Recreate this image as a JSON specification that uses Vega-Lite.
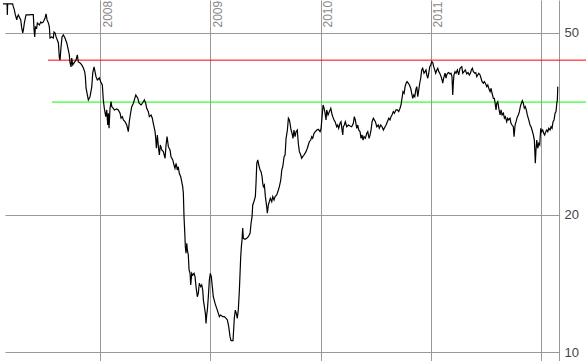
{
  "$schema": "https://vega.github.io/schema/vega-lite/v6.json",
  "width": 554,
  "height": 361,
  "autosize": {"type": "none"},
  "padding": {"left": 5, "top": 0, "right": 27, "bottom": 0},
  "background": "white",
  "config": {"view": {"stroke": null}},
  "encoding": {
    "x": {
      "field": "t",
      "type": "quantitative",
      "scale": {"domain": [2007.134, 2012.166], "nice": false, "zero": false},
      "axis": {
        "orient": "top",
        "values": [2008, 2009, 2010, 2011, 2012],
        "format": "d",
        "labelExpr": "datum.value == 2012 ? '' : datum.label",
        "title": null,
        "grid": true,
        "gridColor": "#999999",
        "gridOpacity": 1,
        "gridWidth": 1,
        "domain": false,
        "ticks": false,
        "tickSize": 0,
        "labelAngle": -90,
        "labelAlign": "left",
        "labelBaseline": "top",
        "labelPadding": -27,
        "labelOffset": 2,
        "labelColor": "#888888",
        "labelFont": "Liberation Sans",
        "labelFontSize": 12,
        "labelOverlap": false,
        "labelFlush": false,
        "labelBound": false
      }
    },
    "y": {
      "field": "v",
      "type": "quantitative",
      "scale": {"type": "log", "domain": [9.58, 59.03], "nice": false, "zero": false},
      "axis": {
        "orient": "right",
        "values": [10, 20, 50],
        "format": "d",
        "title": null,
        "grid": true,
        "gridColor": "#999999",
        "gridOpacity": 1,
        "gridWidth": 1,
        "domain": true,
        "domainColor": "#999999",
        "domainWidth": 1,
        "ticks": false,
        "tickSize": 0,
        "labelPadding": 5,
        "labelAlign": "left",
        "labelBaseline": "middle",
        "labelColor": "#444444",
        "labelFont": "Liberation Sans",
        "labelFontSize": 13,
        "labelOverlap": false,
        "labelFlush": false
      }
    }
  },
  "layer": [
    {
      "data": {"values": [{"t": 2007.525, "t2": 2012.42, "v": 43.6}]},
      "mark": {"type": "rule", "color": "#ff0000", "strokeWidth": 1},
      "encoding": {"x2": {"field": "t2"}}
    },
    {
      "data": {"values": [{"t": 2007.561, "t2": 2012.42, "v": 35.3}]},
      "mark": {"type": "rule", "color": "#00ff00", "strokeWidth": 1},
      "encoding": {"x2": {"field": "t2"}}
    },
    {
      "data": {"values": [
        {"t": 2007.116, "v": 57.87}, {"t": 2007.153, "v": 57.87}, {"t": 2007.155, "v": 54.75}, {"t": 2007.158, "v": 57.87},
        {"t": 2007.203, "v": 57.87}, {"t": 2007.210, "v": 57.01}, {"t": 2007.219, "v": 56.15}, {"t": 2007.228, "v": 54.75},
        {"t": 2007.241, "v": 53.39}, {"t": 2007.246, "v": 54.21}, {"t": 2007.255, "v": 54.75}, {"t": 2007.264, "v": 54.21},
        {"t": 2007.277, "v": 53.39}, {"t": 2007.286, "v": 51.28}, {"t": 2007.295, "v": 50.0}, {"t": 2007.301, "v": 50.76},
        {"t": 2007.310, "v": 52.59}, {"t": 2007.319, "v": 53.93}, {"t": 2007.325, "v": 54.75}, {"t": 2007.346, "v": 54.75},
        {"t": 2007.377, "v": 54.83}, {"t": 2007.391, "v": 54.83}, {"t": 2007.398, "v": 50.76}, {"t": 2007.404, "v": 49.01},
        {"t": 2007.410, "v": 51.54}, {"t": 2007.422, "v": 51.28}, {"t": 2007.428, "v": 52.59}, {"t": 2007.446, "v": 52.06},
        {"t": 2007.459, "v": 52.86}, {"t": 2007.468, "v": 52.59}, {"t": 2007.482, "v": 52.86}, {"t": 2007.498, "v": 53.93},
        {"t": 2007.507, "v": 55.03}, {"t": 2007.516, "v": 53.39}, {"t": 2007.528, "v": 52.59}, {"t": 2007.537, "v": 51.54},
        {"t": 2007.543, "v": 48.76}, {"t": 2007.559, "v": 49.01}, {"t": 2007.573, "v": 48.76}, {"t": 2007.579, "v": 50.24},
        {"t": 2007.589, "v": 50.0}, {"t": 2007.598, "v": 49.01}, {"t": 2007.609, "v": 48.27}, {"t": 2007.619, "v": 47.55},
        {"t": 2007.628, "v": 44.08}, {"t": 2007.634, "v": 43.64}, {"t": 2007.643, "v": 46.60}, {"t": 2007.652, "v": 49.01},
        {"t": 2007.664, "v": 49.50}, {"t": 2007.679, "v": 48.76}, {"t": 2007.695, "v": 47.55}, {"t": 2007.709, "v": 45.90},
        {"t": 2007.718, "v": 44.76}, {"t": 2007.725, "v": 42.99}, {"t": 2007.734, "v": 42.14}, {"t": 2007.740, "v": 44.08},
        {"t": 2007.749, "v": 42.56}, {"t": 2007.761, "v": 42.99}, {"t": 2007.779, "v": 43.64}, {"t": 2007.791, "v": 44.76},
        {"t": 2007.800, "v": 43.20}, {"t": 2007.816, "v": 42.99}, {"t": 2007.831, "v": 42.56}, {"t": 2007.846, "v": 41.92},
        {"t": 2007.858, "v": 41.09}, {"t": 2007.864, "v": 40.07}, {"t": 2007.870, "v": 37.90}, {"t": 2007.882, "v": 36.59},
        {"t": 2007.891, "v": 35.68}, {"t": 2007.906, "v": 36.23}, {"t": 2007.922, "v": 38.10}, {"t": 2007.931, "v": 40.88},
        {"t": 2007.943, "v": 42.14}, {"t": 2007.952, "v": 41.09}, {"t": 2007.961, "v": 40.07}, {"t": 2007.973, "v": 39.46},
        {"t": 2007.991, "v": 39.86}, {"t": 2008.004, "v": 39.07}, {"t": 2008.018, "v": 38.48}, {"t": 2008.027, "v": 35.68},
        {"t": 2008.036, "v": 34.22}, {"t": 2008.049, "v": 32.80}, {"t": 2008.058, "v": 33.93}, {"t": 2008.067, "v": 31.45},
        {"t": 2008.073, "v": 33.37}, {"t": 2008.079, "v": 30.93}, {"t": 2008.088, "v": 34.22}, {"t": 2008.097, "v": 35.38},
        {"t": 2008.104, "v": 34.50}, {"t": 2008.118, "v": 34.22}, {"t": 2008.127, "v": 33.93}, {"t": 2008.149, "v": 34.10},
        {"t": 2008.163, "v": 33.93}, {"t": 2008.179, "v": 33.37}, {"t": 2008.188, "v": 32.54}, {"t": 2008.200, "v": 32.80},
        {"t": 2008.209, "v": 32.26}, {"t": 2008.224, "v": 31.98}, {"t": 2008.240, "v": 31.45}, {"t": 2008.254, "v": 30.41},
        {"t": 2008.263, "v": 31.98}, {"t": 2008.272, "v": 33.08}, {"t": 2008.285, "v": 34.50}, {"t": 2008.300, "v": 35.09},
        {"t": 2008.309, "v": 35.68}, {"t": 2008.322, "v": 36.59}, {"t": 2008.340, "v": 35.98}, {"t": 2008.352, "v": 35.09},
        {"t": 2008.370, "v": 34.79}, {"t": 2008.382, "v": 35.09}, {"t": 2008.400, "v": 35.68}, {"t": 2008.412, "v": 35.09},
        {"t": 2008.421, "v": 34.22}, {"t": 2008.436, "v": 33.64}, {"t": 2008.445, "v": 32.80}, {"t": 2008.461, "v": 33.08},
        {"t": 2008.472, "v": 32.54}, {"t": 2008.481, "v": 31.72}, {"t": 2008.497, "v": 30.41}, {"t": 2008.503, "v": 29.41},
        {"t": 2008.509, "v": 27.97}, {"t": 2008.518, "v": 29.91}, {"t": 2008.527, "v": 28.20}, {"t": 2008.536, "v": 27.04},
        {"t": 2008.545, "v": 28.44}, {"t": 2008.558, "v": 27.73}, {"t": 2008.572, "v": 27.50}, {"t": 2008.588, "v": 26.60},
        {"t": 2008.597, "v": 28.44}, {"t": 2008.606, "v": 29.66}, {"t": 2008.618, "v": 28.20}, {"t": 2008.633, "v": 27.73},
        {"t": 2008.642, "v": 26.81}, {"t": 2008.658, "v": 26.37}, {"t": 2008.669, "v": 25.71}, {"t": 2008.678, "v": 25.29},
        {"t": 2008.688, "v": 25.93}, {"t": 2008.699, "v": 25.07}, {"t": 2008.708, "v": 25.49}, {"t": 2008.717, "v": 24.66},
        {"t": 2008.730, "v": 24.24}, {"t": 2008.739, "v": 23.64}, {"t": 2008.748, "v": 23.05}, {"t": 2008.754, "v": 22.30},
        {"t": 2008.760, "v": 19.82}, {"t": 2008.767, "v": 18.23}, {"t": 2008.772, "v": 17.04}, {"t": 2008.778, "v": 16.48},
        {"t": 2008.785, "v": 17.33}, {"t": 2008.790, "v": 16.76}, {"t": 2008.799, "v": 16.34}, {"t": 2008.806, "v": 15.15},
        {"t": 2008.815, "v": 14.90}, {"t": 2008.821, "v": 14.05}, {"t": 2008.830, "v": 14.90}, {"t": 2008.839, "v": 14.77},
        {"t": 2008.851, "v": 14.90}, {"t": 2008.860, "v": 14.65}, {"t": 2008.869, "v": 13.93}, {"t": 2008.881, "v": 13.24},
        {"t": 2008.890, "v": 13.48}, {"t": 2008.899, "v": 14.17}, {"t": 2008.912, "v": 13.93}, {"t": 2008.921, "v": 14.05},
        {"t": 2008.930, "v": 13.70}, {"t": 2008.936, "v": 13.02}, {"t": 2008.945, "v": 12.59}, {"t": 2008.954, "v": 12.18},
        {"t": 2008.960, "v": 11.58}, {"t": 2008.966, "v": 12.08}, {"t": 2008.972, "v": 12.38}, {"t": 2008.981, "v": 13.24},
        {"t": 2008.990, "v": 14.41}, {"t": 2008.999, "v": 14.90}, {"t": 2009.008, "v": 14.65}, {"t": 2009.017, "v": 13.93},
        {"t": 2009.026, "v": 13.24}, {"t": 2009.042, "v": 12.81}, {"t": 2009.057, "v": 12.49}, {"t": 2009.072, "v": 12.18},
        {"t": 2009.081, "v": 11.98}, {"t": 2009.093, "v": 12.08}, {"t": 2009.112, "v": 11.98}, {"t": 2009.126, "v": 11.98},
        {"t": 2009.142, "v": 11.88}, {"t": 2009.154, "v": 11.78}, {"t": 2009.166, "v": 11.39}, {"t": 2009.178, "v": 10.83},
        {"t": 2009.187, "v": 10.62}, {"t": 2009.205, "v": 10.62}, {"t": 2009.217, "v": 11.90}, {"t": 2009.226, "v": 12.38},
        {"t": 2009.235, "v": 12.18}, {"t": 2009.244, "v": 11.88}, {"t": 2009.253, "v": 12.38}, {"t": 2009.263, "v": 13.70},
        {"t": 2009.269, "v": 14.90}, {"t": 2009.275, "v": 16.20}, {"t": 2009.281, "v": 17.04}, {"t": 2009.287, "v": 17.62},
        {"t": 2009.293, "v": 18.72}, {"t": 2009.299, "v": 17.77}, {"t": 2009.314, "v": 17.68}, {"t": 2009.330, "v": 17.77},
        {"t": 2009.344, "v": 17.92}, {"t": 2009.360, "v": 18.23}, {"t": 2009.369, "v": 19.17}, {"t": 2009.378, "v": 19.82},
        {"t": 2009.384, "v": 21.02}, {"t": 2009.390, "v": 21.20}, {"t": 2009.399, "v": 21.56}, {"t": 2009.408, "v": 21.92},
        {"t": 2009.414, "v": 23.45}, {"t": 2009.421, "v": 25.93}, {"t": 2009.430, "v": 26.37}, {"t": 2009.439, "v": 25.71},
        {"t": 2009.451, "v": 25.07}, {"t": 2009.460, "v": 24.86}, {"t": 2009.469, "v": 24.24}, {"t": 2009.475, "v": 23.45},
        {"t": 2009.481, "v": 23.05}, {"t": 2009.490, "v": 23.25}, {"t": 2009.499, "v": 21.92}, {"t": 2009.511, "v": 20.84},
        {"t": 2009.517, "v": 20.17}, {"t": 2009.526, "v": 21.02}, {"t": 2009.535, "v": 21.38}, {"t": 2009.544, "v": 21.74},
        {"t": 2009.557, "v": 21.38}, {"t": 2009.566, "v": 21.92}, {"t": 2009.578, "v": 21.56}, {"t": 2009.587, "v": 21.92},
        {"t": 2009.602, "v": 22.11}, {"t": 2009.617, "v": 22.67}, {"t": 2009.626, "v": 23.05}, {"t": 2009.639, "v": 23.84},
        {"t": 2009.648, "v": 25.07}, {"t": 2009.657, "v": 25.49}, {"t": 2009.669, "v": 26.81}, {"t": 2009.678, "v": 27.04},
        {"t": 2009.687, "v": 29.41}, {"t": 2009.699, "v": 30.67}, {"t": 2009.708, "v": 32.54}, {"t": 2009.717, "v": 32.26},
        {"t": 2009.723, "v": 31.72}, {"t": 2009.732, "v": 30.67}, {"t": 2009.741, "v": 30.17}, {"t": 2009.750, "v": 29.41},
        {"t": 2009.759, "v": 30.67}, {"t": 2009.769, "v": 29.66}, {"t": 2009.778, "v": 30.41}, {"t": 2009.789, "v": 30.67},
        {"t": 2009.798, "v": 28.68}, {"t": 2009.808, "v": 27.50}, {"t": 2009.820, "v": 27.04}, {"t": 2009.829, "v": 26.60},
        {"t": 2009.838, "v": 26.81}, {"t": 2009.850, "v": 27.04}, {"t": 2009.868, "v": 27.50}, {"t": 2009.880, "v": 27.97},
        {"t": 2009.889, "v": 28.44}, {"t": 2009.898, "v": 28.91}, {"t": 2009.911, "v": 29.16}, {"t": 2009.920, "v": 29.66},
        {"t": 2009.929, "v": 29.41}, {"t": 2009.941, "v": 30.17}, {"t": 2009.953, "v": 30.41}, {"t": 2009.966, "v": 30.67},
        {"t": 2009.980, "v": 30.78}, {"t": 2009.996, "v": 30.41}, {"t": 2010.005, "v": 30.93}, {"t": 2010.014, "v": 32.80},
        {"t": 2010.023, "v": 34.79}, {"t": 2010.032, "v": 34.22}, {"t": 2010.041, "v": 33.37}, {"t": 2010.050, "v": 32.26},
        {"t": 2010.056, "v": 33.93}, {"t": 2010.068, "v": 33.08}, {"t": 2010.080, "v": 33.64}, {"t": 2010.093, "v": 34.22},
        {"t": 2010.102, "v": 33.37}, {"t": 2010.111, "v": 32.80}, {"t": 2010.123, "v": 32.26}, {"t": 2010.132, "v": 31.98},
        {"t": 2010.147, "v": 31.18}, {"t": 2010.156, "v": 31.45}, {"t": 2010.165, "v": 30.93}, {"t": 2010.177, "v": 31.72},
        {"t": 2010.186, "v": 31.98}, {"t": 2010.195, "v": 30.67}, {"t": 2010.202, "v": 29.91}, {"t": 2010.207, "v": 31.18},
        {"t": 2010.216, "v": 31.45}, {"t": 2010.225, "v": 31.98}, {"t": 2010.238, "v": 31.18}, {"t": 2010.253, "v": 31.45},
        {"t": 2010.268, "v": 31.29}, {"t": 2010.283, "v": 31.18}, {"t": 2010.298, "v": 31.72}, {"t": 2010.307, "v": 32.80},
        {"t": 2010.316, "v": 32.26}, {"t": 2010.329, "v": 30.93}, {"t": 2010.338, "v": 31.45}, {"t": 2010.347, "v": 30.67},
        {"t": 2010.359, "v": 30.41}, {"t": 2010.368, "v": 29.41}, {"t": 2010.377, "v": 29.91}, {"t": 2010.386, "v": 29.16},
        {"t": 2010.395, "v": 29.66}, {"t": 2010.407, "v": 29.41}, {"t": 2010.420, "v": 30.17}, {"t": 2010.429, "v": 30.41},
        {"t": 2010.441, "v": 29.41}, {"t": 2010.450, "v": 29.91}, {"t": 2010.459, "v": 30.67}, {"t": 2010.468, "v": 31.98},
        {"t": 2010.480, "v": 32.54}, {"t": 2010.489, "v": 32.26}, {"t": 2010.498, "v": 31.98}, {"t": 2010.511, "v": 31.18},
        {"t": 2010.525, "v": 31.45}, {"t": 2010.534, "v": 30.93}, {"t": 2010.547, "v": 31.45}, {"t": 2010.559, "v": 31.18},
        {"t": 2010.571, "v": 30.67}, {"t": 2010.586, "v": 31.18}, {"t": 2010.595, "v": 31.45}, {"t": 2010.607, "v": 31.98},
        {"t": 2010.620, "v": 32.54}, {"t": 2010.631, "v": 32.26}, {"t": 2010.640, "v": 32.80}, {"t": 2010.649, "v": 33.08},
        {"t": 2010.661, "v": 33.64}, {"t": 2010.670, "v": 33.37}, {"t": 2010.686, "v": 33.93}, {"t": 2010.698, "v": 33.93},
        {"t": 2010.710, "v": 33.64}, {"t": 2010.722, "v": 34.22}, {"t": 2010.731, "v": 34.79}, {"t": 2010.740, "v": 35.98},
        {"t": 2010.749, "v": 37.20}, {"t": 2010.759, "v": 36.90}, {"t": 2010.768, "v": 38.16}, {"t": 2010.777, "v": 38.81},
        {"t": 2010.786, "v": 39.13}, {"t": 2010.798, "v": 38.81}, {"t": 2010.807, "v": 38.48}, {"t": 2010.819, "v": 37.84},
        {"t": 2010.828, "v": 36.90}, {"t": 2010.838, "v": 35.98}, {"t": 2010.847, "v": 36.59}, {"t": 2010.856, "v": 36.28},
        {"t": 2010.865, "v": 37.52}, {"t": 2010.874, "v": 38.16}, {"t": 2010.883, "v": 36.28}, {"t": 2010.892, "v": 37.52},
        {"t": 2010.901, "v": 38.81}, {"t": 2010.910, "v": 39.80}, {"t": 2010.919, "v": 41.50}, {"t": 2010.928, "v": 41.86},
        {"t": 2010.940, "v": 40.82}, {"t": 2010.949, "v": 41.15}, {"t": 2010.958, "v": 41.50}, {"t": 2010.965, "v": 40.47},
        {"t": 2010.974, "v": 39.80}, {"t": 2010.983, "v": 40.82}, {"t": 2010.992, "v": 42.20}, {"t": 2011.001, "v": 42.56},
        {"t": 2011.010, "v": 43.27}, {"t": 2011.019, "v": 43.05}, {"t": 2011.028, "v": 42.20}, {"t": 2011.037, "v": 41.50},
        {"t": 2011.046, "v": 40.82}, {"t": 2011.056, "v": 41.50}, {"t": 2011.065, "v": 41.86}, {"t": 2011.074, "v": 41.15},
        {"t": 2011.083, "v": 40.82}, {"t": 2011.095, "v": 40.13}, {"t": 2011.104, "v": 39.46}, {"t": 2011.110, "v": 38.81},
        {"t": 2011.115, "v": 39.46}, {"t": 2011.122, "v": 40.13}, {"t": 2011.131, "v": 40.82}, {"t": 2011.140, "v": 39.80},
        {"t": 2011.146, "v": 40.47}, {"t": 2011.155, "v": 40.82}, {"t": 2011.164, "v": 40.95}, {"t": 2011.176, "v": 40.67},
        {"t": 2011.185, "v": 40.82}, {"t": 2011.194, "v": 40.13}, {"t": 2011.201, "v": 36.59}, {"t": 2011.206, "v": 38.81},
        {"t": 2011.212, "v": 40.47}, {"t": 2011.222, "v": 41.15}, {"t": 2011.231, "v": 40.82}, {"t": 2011.243, "v": 41.50},
        {"t": 2011.255, "v": 40.47}, {"t": 2011.267, "v": 41.86}, {"t": 2011.283, "v": 42.20}, {"t": 2011.292, "v": 40.82},
        {"t": 2011.303, "v": 41.15}, {"t": 2011.315, "v": 41.50}, {"t": 2011.328, "v": 40.67}, {"t": 2011.340, "v": 40.95},
        {"t": 2011.352, "v": 40.47}, {"t": 2011.361, "v": 40.82}, {"t": 2011.370, "v": 41.50}, {"t": 2011.379, "v": 41.86},
        {"t": 2011.388, "v": 41.15}, {"t": 2011.401, "v": 40.82}, {"t": 2011.410, "v": 40.95}, {"t": 2011.419, "v": 40.13},
        {"t": 2011.428, "v": 40.47}, {"t": 2011.437, "v": 40.82}, {"t": 2011.449, "v": 40.47}, {"t": 2011.458, "v": 39.80},
        {"t": 2011.467, "v": 39.13}, {"t": 2011.479, "v": 38.81}, {"t": 2011.488, "v": 39.13}, {"t": 2011.497, "v": 38.81},
        {"t": 2011.510, "v": 38.16}, {"t": 2011.519, "v": 38.48}, {"t": 2011.528, "v": 37.84}, {"t": 2011.540, "v": 37.20},
        {"t": 2011.549, "v": 37.84}, {"t": 2011.558, "v": 36.90}, {"t": 2011.570, "v": 35.98}, {"t": 2011.579, "v": 35.98},
        {"t": 2011.588, "v": 34.79}, {"t": 2011.594, "v": 33.93}, {"t": 2011.601, "v": 35.09}, {"t": 2011.610, "v": 35.38},
        {"t": 2011.619, "v": 34.22}, {"t": 2011.631, "v": 33.08}, {"t": 2011.640, "v": 33.93}, {"t": 2011.649, "v": 33.08},
        {"t": 2011.661, "v": 33.37}, {"t": 2011.670, "v": 32.54}, {"t": 2011.679, "v": 32.80}, {"t": 2011.691, "v": 31.98},
        {"t": 2011.700, "v": 32.54}, {"t": 2011.709, "v": 32.26}, {"t": 2011.721, "v": 32.54}, {"t": 2011.730, "v": 31.72},
        {"t": 2011.739, "v": 31.45}, {"t": 2011.751, "v": 31.18}, {"t": 2011.758, "v": 29.66}, {"t": 2011.767, "v": 31.45},
        {"t": 2011.776, "v": 31.98}, {"t": 2011.788, "v": 32.80}, {"t": 2011.797, "v": 33.08}, {"t": 2011.806, "v": 33.64},
        {"t": 2011.815, "v": 34.50}, {"t": 2011.824, "v": 35.09}, {"t": 2011.833, "v": 35.56}, {"t": 2011.842, "v": 35.09},
        {"t": 2011.851, "v": 34.22}, {"t": 2011.860, "v": 34.50}, {"t": 2011.869, "v": 33.93}, {"t": 2011.878, "v": 33.08},
        {"t": 2011.891, "v": 32.26}, {"t": 2011.903, "v": 31.45}, {"t": 2011.912, "v": 31.18}, {"t": 2011.921, "v": 30.67},
        {"t": 2011.933, "v": 29.91}, {"t": 2011.942, "v": 29.16}, {"t": 2011.951, "v": 25.93}, {"t": 2011.957, "v": 27.73},
        {"t": 2011.964, "v": 29.16}, {"t": 2011.973, "v": 27.97}, {"t": 2011.982, "v": 28.68}, {"t": 2011.991, "v": 28.44},
        {"t": 2012.000, "v": 30.93}, {"t": 2012.009, "v": 30.41}, {"t": 2012.018, "v": 30.67}, {"t": 2012.027, "v": 30.17},
        {"t": 2012.036, "v": 29.91}, {"t": 2012.046, "v": 30.41}, {"t": 2012.055, "v": 30.67}, {"t": 2012.064, "v": 30.41},
        {"t": 2012.073, "v": 30.93}, {"t": 2012.085, "v": 30.67}, {"t": 2012.094, "v": 31.18}, {"t": 2012.103, "v": 30.93},
        {"t": 2012.112, "v": 31.98}, {"t": 2012.121, "v": 32.26}, {"t": 2012.130, "v": 33.37}, {"t": 2012.139, "v": 33.64},
        {"t": 2012.146, "v": 35.09}, {"t": 2012.151, "v": 35.68}, {"t": 2012.155, "v": 38.16}
      ]},
      "mark": {"type": "line", "color": "#000000", "strokeWidth": 1.2, "interpolate": "linear"}
    }
  ]
}
